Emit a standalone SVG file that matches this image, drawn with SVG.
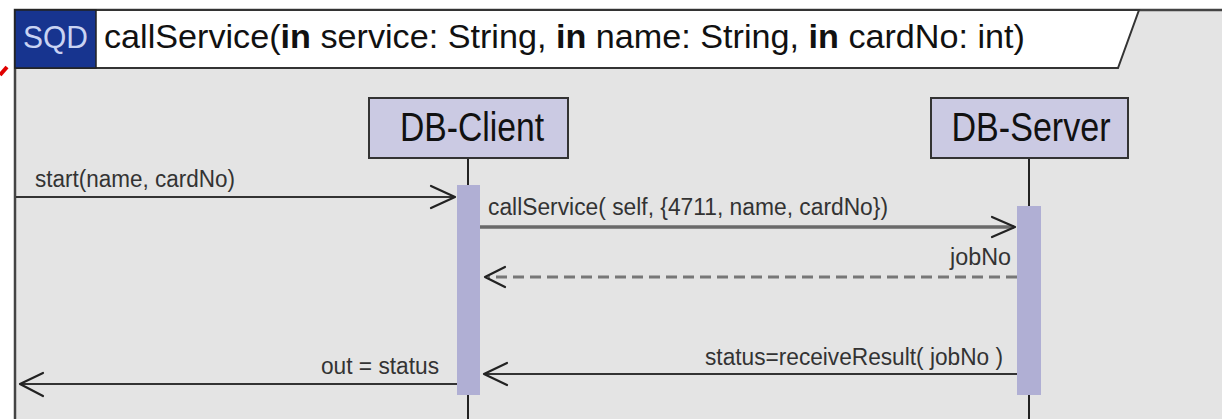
<svg xmlns="http://www.w3.org/2000/svg" width="1222" height="419" viewBox="0 0 1222 419">
<defs>
<style>
.lbl{font-family:"Liberation Sans",Arial,sans-serif;font-size:23px;fill:#333}
.ttl{font-family:"Liberation Sans",Arial,sans-serif;font-size:33px;fill:#111}
.ln{font-family:"Liberation Sans",Arial,sans-serif;font-size:40px;fill:#111;text-anchor:middle}
.box{fill:#cbcae3;stroke:#333;stroke-width:2}
.bar{fill:#b0afd4}
.life{stroke:#222;stroke-width:2}
.msg{fill:none;stroke:#333;stroke-width:2}
.head{fill:none;stroke:#222;stroke-width:2.2;stroke-linecap:round;stroke-linejoin:round}
</style>
</defs>
<rect x="0" y="0" width="1222" height="419" fill="#ffffff"/>
<g id="frame">
<rect x="15" y="10" width="1240" height="430" fill="#e4e4e4" stroke="#444" stroke-width="2.5"/>
<polygon points="15,10 1139,10 1118,68 15,68" fill="#ffffff" stroke="#333" stroke-width="2"/>
<rect x="15" y="10" width="81" height="58" fill="#17348f" stroke="#222" stroke-width="1.5"/>
<text x="23" y="48" font-family="Liberation Sans, Arial, sans-serif" font-size="31" fill="#c9d3f3" textLength="65" lengthAdjust="spacingAndGlyphs">SQD</text>
<text class="ttl" x="104" y="48" textLength="921" lengthAdjust="spacingAndGlyphs">callService(<tspan font-weight="bold">in</tspan> service: String, <tspan font-weight="bold">in</tspan> name: String, <tspan font-weight="bold">in</tspan> cardNo: int)</text>
<path d="M0,75 L7,67" stroke="#e00000" stroke-width="4" fill="none"/>
</g>
<g id="db-client">
<line class="life" x1="468" y1="158" x2="468" y2="186"/>
<line class="life" x1="468" y1="395" x2="468" y2="419"/>
<rect class="box" x="369" y="98" width="199" height="60"/>
<text class="ln" x="472" y="141" textLength="144" lengthAdjust="spacingAndGlyphs">DB-Client</text>
<rect class="bar" x="457" y="185" width="23" height="210"/>
</g>
<g id="db-server">
<line class="life" x1="1029" y1="158" x2="1029" y2="207"/>
<line class="life" x1="1029" y1="395" x2="1029" y2="419"/>
<rect class="box" x="931" y="98" width="197" height="60"/>
<text class="ln" x="1031" y="141" textLength="159" lengthAdjust="spacingAndGlyphs">DB-Server</text>
<rect class="bar" x="1017" y="206" width="24" height="189"/>
</g>
<g id="connectors">
<line class="msg" x1="16" y1="197" x2="455" y2="197"/>
<polyline class="head" points="431,186 455,197 431,208"/>
<text class="lbl" x="35" y="187" textLength="200" lengthAdjust="spacingAndGlyphs">start(name, cardNo)</text>
<line x1="480" y1="227" x2="1014" y2="227" stroke="#6a6a6a" stroke-width="3.5"/>
<polyline class="head" points="992,217 1015,227 992,237"/>
<text class="lbl" x="488" y="215" textLength="400" lengthAdjust="spacingAndGlyphs">callService( self, {4711, name, cardNo})</text>
<line x1="1017" y1="277" x2="488" y2="277" stroke="#777" stroke-width="3" stroke-dasharray="11 6"/>
<polyline class="head" points="505,267 485,277 505,287"/>
<text class="lbl" x="1011" y="265" text-anchor="end" textLength="61" lengthAdjust="spacingAndGlyphs">jobNo</text>
<line class="msg" x1="1017" y1="374" x2="484" y2="374"/>
<polyline class="head" points="507,363 484,374 507,385"/>
<text class="lbl" x="1003" y="365" text-anchor="end" textLength="298" lengthAdjust="spacingAndGlyphs">status=receiveResult( jobNo )</text>
<line class="msg" x1="457" y1="384" x2="21" y2="384"/>
<polyline class="head" points="43,373 20,384 43,396"/>
<text class="lbl" x="439" y="374" text-anchor="end" textLength="118" lengthAdjust="spacingAndGlyphs">out = status</text>
</g>
</svg>
